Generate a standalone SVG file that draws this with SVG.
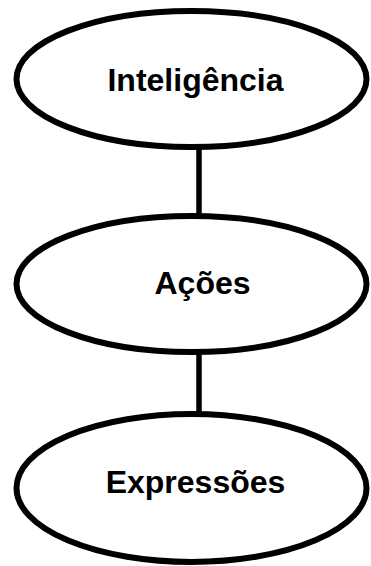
<svg xmlns="http://www.w3.org/2000/svg" width="371" height="566" viewBox="0 0 371 566">
  <style>
    .node ellipse { fill: #ffffff; stroke: #000000; stroke-width: 6; }
    .node text { font-family: "Liberation Sans", Arial, sans-serif; font-weight: bold; font-size: 32px; fill: #000000; text-anchor: middle; }
    .edge { stroke: #000000; stroke-width: 5.5; fill: none; }
  </style>
  <rect width="371" height="566" fill="#ffffff"/>
  <!-- connectors between the stacked nodes -->
  <g id="connectors">
    <line class="edge" x1="199" y1="147" x2="199" y2="216"/>
    <line class="edge" x1="199" y1="352" x2="199" y2="414"/>
  </g>
  <g id="inteligencia" class="node">
    <ellipse cx="191.5" cy="79" rx="175" ry="68"/>
    <text x="195.5" y="91">Inteligência</text>
  </g>
  <g id="acoes" class="node">
    <ellipse cx="191.5" cy="284" rx="175" ry="68"/>
    <text x="202.5" y="294">Ações</text>
  </g>
  <g id="expressoes" class="node">
    <ellipse cx="191.5" cy="488" rx="175" ry="74"/>
    <text x="195.5" y="493">Expressões</text>
  </g>
</svg>
